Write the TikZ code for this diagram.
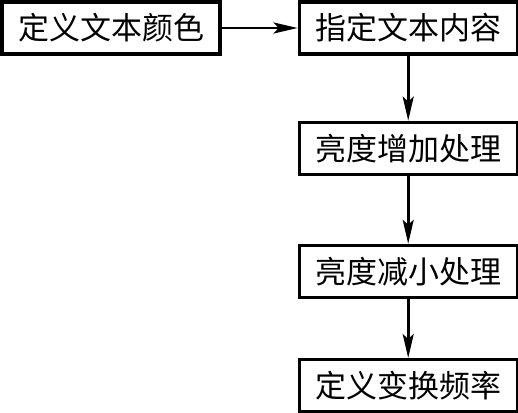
\documentclass[tikz,border=0pt]{standalone}
\usepackage{fontspec}
\newfontfamily\cjk{Noto Sans CJK SC}
\usetikzlibrary{arrows.meta,positioning}

\begin{document}
\begin{tikzpicture}[
      box/.style={rectangle, draw=black, line width=3.2pt, align=center,
                  inner sep=0pt, minimum width=218pt, minimum height=52pt,
                  font=\cjk\fontsize{31pt}{33pt}\selectfont},
      arr/.style={-{Stealth[length=24pt,width=11pt,inset=5pt]}, line width=2.6pt}
    ]
    \useasboundingbox (0pt,0pt) rectangle (518pt,-412pt);
    \node[box] (color) at (111pt,-28pt) {定义文本颜色};
    \node[box,right=76pt of color] (content) {指定文本内容};
    \node[box,below=65pt of content] (inc) {亮度增加处理};
    \node[box,below=68pt of inc] (dec) {亮度减小处理};
    \node[box,below=59pt of dec] (freq) {定义变换频率};
    \draw[arr] (color) -- (content);
    \draw[arr] (content) -- (inc);
    \draw[arr] (inc) -- (dec);
    \draw[arr] (dec) -- (freq);
  \end{tikzpicture}
\end{document}
